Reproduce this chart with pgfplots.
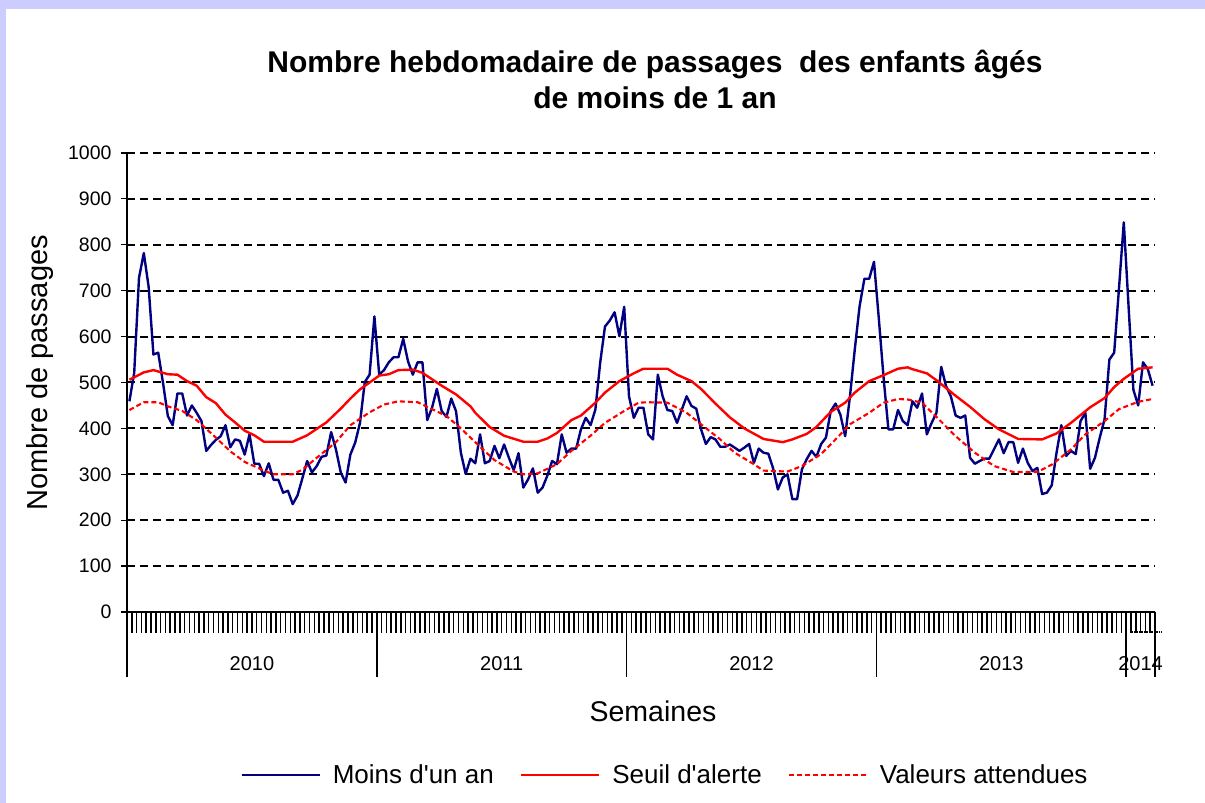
\documentclass[border=0pt]{standalone}
\usepackage{pgfplots}
\pgfplotsset{compat=1.18}
\usepackage{fontspec}
\setmainfont{Liberation Sans}[Ligatures=TeXOff]
\definecolor{lav}{HTML}{CCCCFF}
\definecolor{navyb}{HTML}{000080}
\begin{document}
\begin{tikzpicture}[x=1pt,y=1pt]
\fill[lav] (0,0) rectangle (1205,803);
\fill[white] (6,0) rectangle (1205,794);
\begin{axis}[
  at={(127pt,191pt)}, anchor=south west,
  scale only axis, width=1028pt, height=459pt,
  xmin=-0.5, xmax=213.5, ymin=0, ymax=1000,
  axis x line=bottom, axis y line=left,
  axis line style={-, black, line width=2.2pt},
  xtick=\empty,
  ytick distance=100,
  scaled y ticks=false,
  tick align=outside, major tick length=6pt,
  ytick style={black, line width=1.2pt},
  ymajorgrids,
  grid style={black, line width=2pt, dash pattern=on 8pt off 5pt},
  yticklabel style={font=\fontsize{19.5}{22}\selectfont, xshift=-6pt},
  /pgf/number format/assume math mode=true,
  /pgf/number format/1000 sep={},
  clip=false,
  no markers,
  legend columns=3,
  legend style={at={(0.5233,-0.355)}, anchor=center, draw=none, fill=none,
    font=\fontsize{26}{30}\selectfont,
    /tikz/every odd column/.append style={column sep=10pt},
    /tikz/every even column/.append style={column sep=24pt}},
  legend image code/.code={\draw[#1] (0pt,0pt) -- (78pt,0pt);},
]
\addplot[navyb, line width=2.4pt, line join=round] coordinates {
(0,459) (1,521) (2,728) (3,782) (4,709) (5,561) (6,565) (7,499) (8,427) (9,407)
(10,476) (11,476) (12,428) (13,450) (14,434) (15,416) (16,351) (17,364) (18,375) (19,383)
(20,407) (21,359) (22,376) (23,373) (24,343) (25,387) (26,323) (27,323) (28,296) (29,324)
(30,288) (31,288) (32,260) (33,264) (34,235) (35,254) (36,291) (37,329) (38,304) (39,318)
(40,338) (41,341) (42,392) (43,354) (44,304) (45,282) (46,343) (47,369) (48,412) (49,501)
(50,517) (51,644) (52,517) (53,527) (54,544) (55,555) (56,555) (57,595) (58,546) (59,517)
(60,544) (61,544) (62,418) (63,445) (64,486) (65,438) (66,425) (67,465) (68,437) (69,347)
(70,301) (71,334) (72,324) (73,387) (74,324) (75,329) (76,362) (77,335) (78,365) (79,336)
(80,309) (81,346) (82,271) (83,289) (84,313) (85,260) (86,271) (87,297) (88,329) (89,322)
(90,387) (91,347) (92,356) (93,356) (94,398) (95,423) (96,407) (97,441) (98,543) (99,622)
(100,635) (101,653) (102,601) (103,665) (104,470) (105,423) (106,445) (107,445) (108,387) (109,376)
(110,517) (111,470) (112,440) (113,438) (114,412) (115,441) (116,470) (117,449) (118,443) (119,398)
(120,366) (121,381) (122,376) (123,360) (124,360) (125,365) (126,358) (127,351) (128,358) (129,366)
(130,325) (131,356) (132,347) (133,345) (134,313) (135,267) (136,293) (137,300) (138,246) (139,246)
(140,311) (141,333) (142,351) (143,338) (144,366) (145,380) (146,438) (147,454) (148,430) (149,383)
(150,470) (151,572) (152,666) (153,726) (154,726) (155,763) (156,640) (157,510) (158,398) (159,398)
(160,440) (161,416) (162,407) (163,459) (164,445) (165,476) (166,387) (167,412) (168,434) (169,534)
(170,492) (171,470) (172,428) (173,423) (174,428) (175,336) (176,323) (177,329) (178,334) (179,334)
(180,355) (181,376) (182,346) (183,370) (184,370) (185,325) (186,356) (187,325) (188,307) (189,314)
(190,257) (191,260) (192,276) (193,347) (194,407) (195,340) (196,351) (197,344) (198,416) (199,434)
(200,312) (201,336) (202,380) (203,420) (204,550) (205,565) (206,705) (207,849) (208,665) (209,484)
(210,450) (211,544) (212,529) (213,493)
};
\addlegendentry{Moins d'un an}
\addplot[red, line width=2.4pt, line join=round] coordinates {
(0,506) (3,522) (5,527) (8,518) (10,517) (12,503) (14,493) (16,468) (18,455) (20,430)
(22,413) (24,395) (26,385) (28,371) (34,371) (37,385) (41,413) (44,443) (46,465) (48,485)
(50,500) (52,515) (54,518) (56,527) (59,528) (61,521) (63,507) (65,493) (68,474) (71,448)
(72,434) (75,403) (78,384) (82,371) (85,371) (87,378) (89,390) (92,418) (94,428) (97,456)
(99,478) (102,503) (105,520) (107,530) (112,530) (114,517) (117,503) (119,486) (122,454)
(125,424) (128,400) (132,377) (136,370) (138,376) (141,388) (143,403) (146,436) (149,456)
(151,478) (154,503) (157,516) (160,530) (162,533) (163,529) (166,520) (168,505) (172,471)
(175,447) (178,420) (181,398) (185,377) (190,376) (193,389) (196,412) (200,446) (203,466)
(205,490) (207,508) (210,530) (213,533)
};
\addlegendentry{Seuil d'alerte}
\addplot[red, line width=2.1pt, dash pattern=on 5pt off 3pt] coordinates {
(0,440) (3,457) (6,457) (8,448) (11,438) (14,418) (18,380) (21,350) (24,327) (28,308)
(30,300) (34,300) (36,310) (39,336) (43,370) (46,407) (50,435) (53,452) (56,459) (60,457)
(62,447) (66,427) (69,400) (73,360) (76,331) (80,306) (82,300) (85,302) (89,322) (92,351)
(96,384) (99,412) (103,438) (106,456) (108,457) (112,456) (116,434) (119,409) (123,376)
(126,347) (130,322) (132,308) (137,306) (140,318) (144,344) (147,376) (150,409) (154,434)
(157,456) (160,464) (162,463) (165,456) (168,425) (172,383) (176,347) (180,318) (184,305)
(189,305) (192,321) (196,354) (199,387) (203,416) (206,442) (210,458) (213,464)
};
\addlegendentry{Valeurs attendues}
\pgfplotsinvokeforeach{0,...,214}{
  \draw[black, line width=1.5pt] ([xshift=-2.402pt]axis cs:#1,0) -- ++(0pt,-21pt);
}
\pgfplotsinvokeforeach{0,52,104,156,208,214}{
  \draw[black, line width=1.6pt] ([xshift=-2.402pt]axis cs:#1,0) -- ++(0pt,-65pt);
}
\node[anchor=base, font=\fontsize{20}{22}\selectfont] at ([yshift=-58pt]axis cs:25.5,0) {2010};
\node[anchor=base, font=\fontsize{20}{22}\selectfont] at ([yshift=-58pt]axis cs:77.5,0) {2011};
\node[anchor=base, font=\fontsize{20}{22}\selectfont] at ([yshift=-58pt]axis cs:129.5,0) {2012};
\node[anchor=base, font=\fontsize{20}{22}\selectfont] at ([yshift=-58pt]axis cs:181.5,0) {2013};
\node[anchor=base, font=\fontsize{20}{22}\selectfont] at ([yshift=-58pt]axis cs:210.5,0) {2014};
\end{axis}
\draw[black, line width=1.5pt, densely dotted] (1131,171) -- (1162,171);
\node[anchor=base, font=\fontsize{30}{36}\selectfont\bfseries] at (655,730) {Nombre hebdomadaire de passages\ \ des enfants âgés};
\node[anchor=base, font=\fontsize{30}{36}\selectfont\bfseries] at (655,694) {de moins de 1 an};
\node[rotate=90, font=\fontsize{29}{34}\selectfont] at (40,430) {Nombre de passages};
\node[anchor=base, font=\fontsize{28.5}{34}\selectfont] at (653,81) {Semaines};
\pgfresetboundingbox
\path (0,0) rectangle (1205,803);
\end{tikzpicture}
\end{document}
